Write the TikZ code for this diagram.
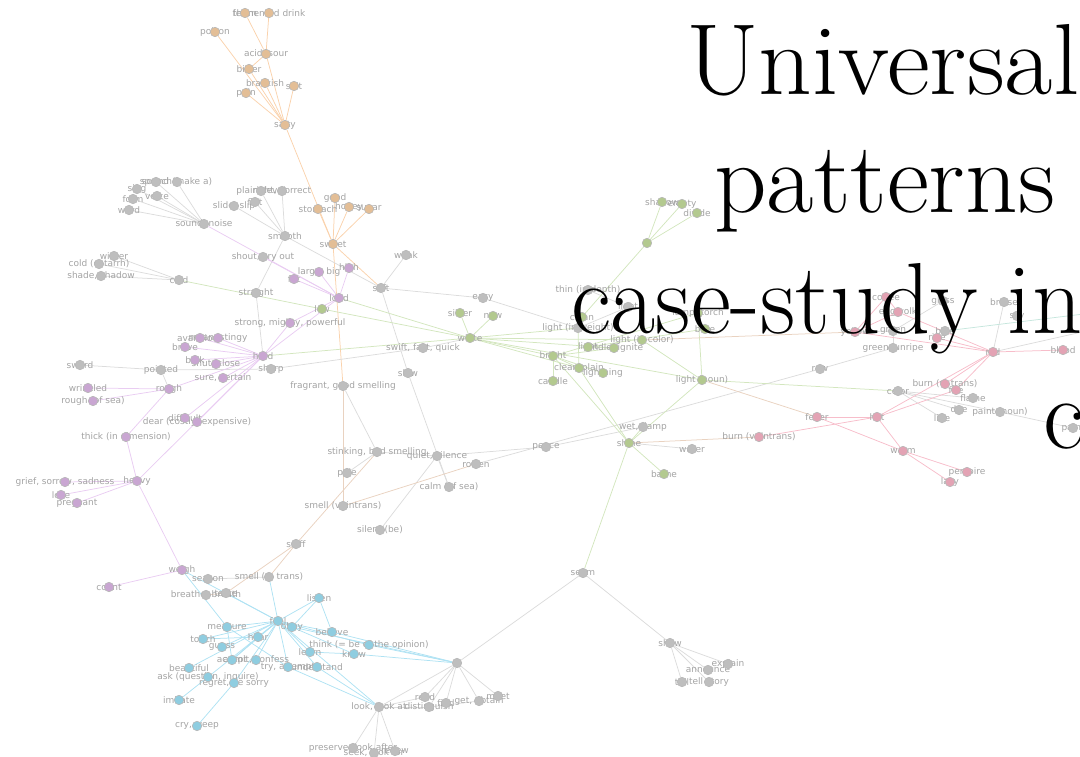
\documentclass[tikz,border=0pt]{standalone}
\usepackage{fontspec}
\newfontfamily\labelfont{DejaVu Sans}

% node fills by community
\definecolor{nOr}{HTML}{E3BE96}
\definecolor{nPu}{HTML}{C9A6D2}
\definecolor{nGr}{HTML}{B3C98F}
\definecolor{nBl}{HTML}{8FCDE0}
\definecolor{nPk}{HTML}{E3A3B4}
\definecolor{nGy}{HTML}{BEBEBE}
% edge colours
\definecolor{eOr}{HTML}{FAD2AC}
\definecolor{ePu}{HTML}{E9CCF2}
\definecolor{eGr}{HTML}{D3E6BE}
\definecolor{eBl}{HTML}{AFE2F3}
\definecolor{ePk}{HTML}{F7BDCA}
\definecolor{eGy}{HTML}{DCDCDC}
\definecolor{eBr}{HTML}{E9D2C0}
\definecolor{eTl}{HTML}{C6E6DD}

\pgfdeclarelayer{edges}
\pgfdeclarelayer{labels}
\pgfsetlayers{edges,labels,main}

\tikzset{
  dot/.style={circle,minimum size=9.5pt,inner sep=0pt,draw=black!28,line width=0.6pt},
  lbl/.style={font=\labelfont\fontsize{9}{10}\selectfont,text=black!36,inner sep=0pt},
  link/.style={line width=0.75pt},
  title/.style={font=\fontsize{101}{117}\selectfont,text=black,inner sep=0pt,anchor=base west}
}

% vertex: name, x, y, fill, label
\newcommand\V[5]{%
  \begin{pgfonlayer}{labels}\node[lbl] (#1-t) at (#2,#3) {#5};\end{pgfonlayer}
  \node[dot,fill=#4] (#1) at (#2,#3) {};}
% edge group: colour, list of a/b pairs
\newcommand\Es[2]{%
  \begin{pgfonlayer}{edges}
  \foreach \a/\b in {#2} {\draw[link,#1] (\a) -- (\b);}
  \end{pgfonlayer}}

\begin{document}
\begin{tikzpicture}[x=1pt,y=-1pt]
\useasboundingbox (0,0) rectangle (1080,757);

% ---- taste
\V{thorn}{245}{13}{nOr}{thorn}
\V{ferm}{269}{13}{nOr}{fermented drink}
\V{poison}{215}{32}{nOr}{poison}
\V{acid}{266}{54}{nOr}{acid, sour}
\V{bitter}{249}{69}{nOr}{bitter}
\V{brack}{265}{83}{nOr}{brackish}
\V{salt}{294}{86}{nOr}{salt}
\V{pain}{246}{93}{nOr}{pain}
\V{salty}{285}{125}{nOr}{salty}
\V{good}{335}{198}{nOr}{good}
\V{stomach}{318}{209}{nOr}{stomach}
\V{honey}{349}{207}{nOr}{honey}
\V{sugar}{369}{209}{nOr}{sugar}
\V{sweet}{333}{244}{nOr}{sweet}

% ---- sound and surface
\V{speech}{156}{182}{nGy}{speech}
\V{soundmk}{177}{182}{nGy}{sound (make a)}
\V{sing}{137}{189}{nGy}{sing}
\V{voice}{157}{196}{nGy}{voice}
\V{form}{133}{199}{nGy}{form}
\V{word}{129}{210}{nGy}{word}
\V{sound}{204}{224}{nGy}{sound, noise}
\V{plain}{261}{191}{nGy}{plain, level}
\V{correct}{282}{191}{nGy}{right, correct}
\V{slide}{234}{206}{nGy}{slide, slip}
\V{flat}{255}{202}{nGy}{flat}
\V{smooth}{285}{236}{nGy}{smooth}

% ---- hard / heavy
\V{winter}{114}{256}{nGy}{winter}
\V{catarrh}{99}{264}{nGy}{cold (catarrh)}
\V{shade}{101}{276}{nGy}{shade, shadow}
\V{cold}{179}{280}{nGy}{cold}
\V{shout}{263}{257}{nGy}{shout, cry out}
\V{large}{319}{272}{nPu}{large, big}
\V{high}{349}{268}{nPu}{high}
\V{fat}{294}{279}{nPu}{fat}
\V{loud}{339}{298}{nPu}{loud}
\V{low}{322}{309}{nGr}{low}
\V{straight}{256}{293}{nGy}{straight}
\V{soft}{381}{288}{nGy}{soft}
\V{weak}{406}{255}{nGy}{weak}
\V{strong}{290}{323}{nPu}{strong, mighty, powerful}
\V{hard}{263}{356}{nPu}{hard}
\V{greedy}{200}{338}{nPu}{avaricious}
\V{stingy}{218}{338}{nPu}{mean, stingy}
\V{brave}{185}{347}{nPu}{brave}
\V{bulk}{195}{360}{nPu}{bulk}
\V{shut}{216}{364}{nPu}{shut, close}
\V{sharp}{271}{369}{nGy}{sharp}
\V{sword}{80}{365}{nGy}{sword}
\V{pointed}{161}{370}{nGy}{pointed}
\V{sure}{223}{378}{nPu}{sure, certain}
\V{wrinkled}{88}{388}{nPu}{wrinkled}
\V{rough}{169}{389}{nPu}{rough}
\V{roughsea}{93}{401}{nPu}{rough (of sea)}
\V{difficult}{185}{418}{nPu}{difficult}
\V{dear}{197}{422}{nPu}{dear (costly, expensive)}
\V{thick}{126}{437}{nPu}{thick (in dimension)}
\V{heavy}{137}{481}{nPu}{heavy}
\V{grief}{65}{482}{nPu}{grief, sorrow, sadness}
\V{lose}{61}{495}{nPu}{lose}
\V{pregnant}{77}{503}{nPu}{pregnant}

% ---- smell and quiet
\V{fragrant}{343}{386}{nGy}{fragrant, good smelling}
\V{stinking}{377}{452}{nGy}{stinking, bad smelling}
\V{pale}{347}{473}{nGy}{pale}
\V{smellvi}{343}{506}{nGy}{smell (v. intrans)}
\V{sniff}{296}{544}{nGy}{sniff}
\V{silent}{380}{530}{nGy}{silent (be)}
\V{quiet}{437}{456}{nGy}{quiet, silence}
\V{rotten}{476}{464}{nGy}{rotten}
\V{peace}{546}{447}{nGy}{peace}
\V{calm}{449}{487}{nGy}{calm (of sea)}
\V{slow}{408}{373}{nGy}{slow}
\V{swift}{423}{348}{nGy}{swift, fast, quick}
\V{easy}{483}{298}{nGy}{easy}
\V{silver}{460}{313}{nGr}{silver}
\V{new}{493}{316}{nGr}{new}
\V{white}{470}{338}{nGr}{white}

% ---- perception
\V{weigh}{182}{570}{nPu}{weigh}
\V{count}{109}{587}{nPu}{count}
\V{season}{208}{579}{nGy}{season}
\V{smellvt}{269}{577}{nGy}{smell (v. trans)}
\V{taste}{226}{593}{nGy}{taste}
\V{breathe}{206}{595}{nGy}{breathe, breath}
\V{feel}{278}{621}{nBl}{feel}
\V{obey}{292}{627}{nBl}{obey}
\V{measure}{227}{627}{nBl}{measure}
\V{hear}{258}{637}{nBl}{hear}
\V{touch}{203}{639}{nBl}{touch}
\V{guess}{222}{647}{nBl}{guess}
\V{accept}{232}{660}{nBl}{accept}
\V{confess}{256}{660}{nBl}{admit, confess}
\V{try}{288}{667}{nBl}{try, attempt}
\V{understand}{317}{667}{nBl}{understand}
\V{beautiful}{189}{668}{nBl}{beautiful}
\V{ask}{208}{677}{nBl}{ask (question, inquire)}
\V{regret}{234}{683}{nBl}{regret, be sorry}
\V{imitate}{179}{700}{nBl}{imitate}
\V{cry}{197}{726}{nBl}{cry, weep}
\V{listen}{319}{598}{nBl}{listen}
\V{believe}{332}{632}{nBl}{believe}
\V{think}{369}{645}{nBl}{think (= be of the opinion)}
\V{learn}{310}{652}{nBl}{learn}
\V{know}{354}{654}{nBl}{know}
\V{see}{457}{663}{nGy}{}
\V{look}{379}{707}{nGy}{look, look at}
\V{read}{425}{697}{nGy}{read}
\V{disting}{429}{707}{nGy}{distinguish}
\V{find}{446}{703}{nGy}{find}
\V{get}{479}{701}{nGy}{get, obtain}
\V{meet}{498}{696}{nGy}{meet}
\V{preserve}{353}{748}{nGy}{preserve, look after}
\V{seek}{374}{753}{nGy}{seek, look for}
\V{renew}{395}{751}{nGy}{renew}
\V{seem}{583}{573}{nGy}{seem}
\V{show}{670}{643}{nGy}{show}
\V{explain}{728}{664}{nGy}{explain}
\V{announce}{708}{670}{nGy}{announce}
\V{tell}{682}{682}{nGy}{tell}
\V{story}{709}{682}{nGy}{tell story}

% ---- light
\V{shallow}{662}{202}{nGr}{shallow}
\V{empty}{682}{204}{nGr}{empty}
\V{divide}{697}{213}{nGr}{divide}
\V{cut}{647}{243}{nGr}{}
\V{thin}{588}{290}{nGy}{thin (in depth)}
\V{lit}{628}{307}{nGy}{light}
\V{clean}{582}{317}{nGr}{clean}
\V{lightw}{578}{328}{nGy}{light (in weight)}
\V{lamp}{698}{313}{nGr}{lamp, torch}
\V{bare}{705}{329}{nGr}{bare}
\V{lightc}{642}{340}{nGr}{light (in color)}
\V{lightv}{588}{347}{nGr}{light}
\V{kindle}{614}{348}{nGr}{kindle, ignite}
\V{bright}{553}{356}{nGr}{bright}
\V{clear}{579}{368}{nGr}{clear, plain}
\V{lightning}{603}{373}{nGr}{lightning}
\V{candle}{553}{381}{nGr}{candle}
\V{lightn}{702}{380}{nGr}{light (noun)}
\V{wet}{643}{427}{nGy}{wet, damp}
\V{shine}{629}{443}{nGr}{shine}
\V{water}{692}{449}{nGy}{water}
\V{bathe}{664}{474}{nGr}{bathe}
\V{burnvi}{759}{437}{nPk}{burn (v. intrans)}

% ---- colour and heat
\V{coffee}{886}{297}{nPk}{coffee}
\V{egg}{898}{312}{nPk}{egg yolk}
\V{glass}{943}{301}{nGy}{glass}
\V{bruise}{1004}{302}{nGy}{bruise}
\V{sky}{1017}{316}{nGy}{sky}
\V{yellow}{855}{332}{nPk}{yellow}
\V{green}{893}{331}{nGy}{green}
\V{blue}{945}{331}{nGy}{blue}
\V{ripe}{937}{338}{nPk}{ripe}
\V{unripe}{893}{348}{nGy}{green, unripe}
\V{red}{993}{352}{nPk}{red}
\V{blood}{1063}{350}{nPk}{blood}
\V{raw}{820}{369}{nGy}{raw}
\V{burnvt}{945}{384}{nPk}{burn (v. trans)}
\V{fire}{956}{390}{nPk}{fire}
\V{color}{898}{391}{nGy}{color}
\V{flame}{973}{398}{nGy}{flame}
\V{dye}{959}{410}{nGy}{dye}
\V{paintn}{1000}{412}{nGy}{paint (noun)}
\V{line}{942}{418}{nGy}{line}
\V{paint}{1073}{428}{nGy}{paint}
\V{fever}{817}{417}{nPk}{fever}
\V{hot}{877}{417}{nPk}{hot}
\V{warm}{903}{451}{nPk}{warm}
\V{perspire}{967}{472}{nPk}{perspire}
\V{lazy}{950}{482}{nPk}{lazy}

\coordinate (offA) at (1100,312);
\coordinate (offB) at (1100,328);

% ---- connectors
\Es{eOr}{thorn/acid,ferm/acid,poison/salty,acid/bitter,acid/salty,bitter/salty,
  brack/salty,salt/salty,pain/salty,salty/sweet,good/sweet,stomach/sweet,
  honey/sweet,sugar/sweet,sweet/soft,sweet/fragrant}
\Es{eGy}{speech/sound,soundmk/sound,sing/sound,voice/sound,form/sound,word/sound,
  plain/smooth,correct/smooth,flat/smooth,slide/smooth,smooth/straight,smooth/soft,
  winter/cold,catarrh/cold,shade/cold,straight/hard,weak/soft,soft/easy,easy/lightw,
  soft/slow,slow/calm,sharp/swift,swift/white,sharp/pointed,pointed/sword,pointed/rough,
  fragrant/stinking,stinking/pale,stinking/quiet,quiet/calm,quiet/peace,quiet/silent,
  rotten/raw,peace/wet,season/smellvt,see/look,see/read,see/disting,see/find,see/get,
  see/meet,see/seem,look/preserve,look/seek,look/renew,look/read,look/disting,
  disting/get,seem/show,show/explain,show/announce,show/tell,show/story,shine/water,
  raw/unripe,green/unripe,green/glass,green/yellow,red/bruise,color/dye,color/paintn,
  color/line,color/flame,paintn/paint,red/offB,lightw/lit,thin/lit}
\Es{ePu}{sound/loud,shout/loud,large/loud,high/loud,fat/loud,loud/strong,strong/hard,
  loud/hard,greedy/hard,stingy/hard,brave/hard,bulk/hard,shut/hard,sure/hard,rough/hard,
  hard/heavy,difficult/hard,dear/hard,thick/rough,thick/heavy,wrinkled/rough,
  roughsea/rough,heavy/grief,heavy/lose,heavy/pregnant,heavy/weigh,weigh/count}
\Es{eGr}{cold/low,low/white,loud/white,hard/white,silver/white,new/white,white/bright,
  white/clear,white/lightn,white/lightc,white/kindle,white/lightw,bright/candle,
  bright/clear,bright/lightning,bright/kindle,bright/lamp,bright/shine,clear/shine,
  clear/lightw,lightc/lightn,lamp/lightn,bare/lightv,cut/shallow,cut/empty,cut/divide,
  cut/clean,shine/lightn,shine/wet,shine/bathe,shine/seem,lightn/color,lightv/kindle}
\Es{eBl}{weigh/measure,weigh/feel,smellvt/feel,taste/feel,feel/obey,feel/measure,
  feel/hear,feel/touch,feel/guess,feel/accept,feel/confess,feel/try,feel/understand,
  feel/beautiful,feel/ask,feel/regret,feel/learn,feel/know,feel/believe,feel/think,
  feel/listen,feel/look,listen/believe,listen/obey,measure/accept,measure/try,
  touch/hear,imitate/ask,cry/regret,believe/see,think/see,know/see,obey/see,learn/know,
  understand/look,try/look,hear/accept}
\Es{eBr}{lightc/yellow,lightn/fever,shine/burnvi,fragrant/smellvi,stinking/sniff,
  sniff/smellvt,sniff/taste,smellvi/rotten,taste/breathe}
\Es{ePk}{burnvi/hot,fever/hot,fever/warm,hot/warm,hot/red,hot/fire,warm/perspire,
  warm/lazy,burnvt/red,fire/red,red/yellow,red/ripe,red/egg,red/blood,yellow/egg,
  egg/coffee,coffee/yellow}
\Es{eTl}{blue/offA}

% ---- heading
\node[title] (t1) at (686,95) {\scalebox{1.04}[1]{Universal}};
\node[title] (t2) at (714,213) {\scalebox{1.02}[1]{patterns}};
\node[title] (t3) at (571,333) {\scalebox{0.97}[1]{case-study in}};
\node[title] (t4) at (1043,448) {c};
\end{tikzpicture}
\end{document}
